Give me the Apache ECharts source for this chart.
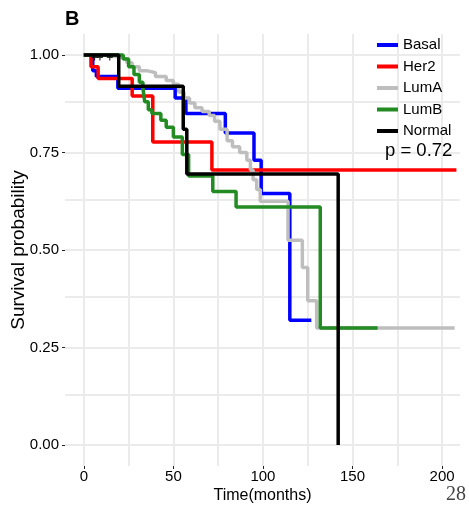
<!DOCTYPE html>
<html>
<head>
<meta charset="utf-8">
<script src="https://cdn.jsdelivr.net/npm/echarts@6/dist/echarts.min.js"></script>
<style>
html,body{margin:0;padding:0;background:#ffffff;}
#chart{width:469px;height:512px;}
</style>
</head>
<body>
<div id="chart"></div>
<script>
// ---- data ----
const groups = ['Basal', 'Her2', 'LumA', 'LumB', 'Normal'];
const groupColors = ['#0000ff', '#ff0000', '#bebebe', '#228b22', '#000000'];

const timeBasal = [0, 5, 7, 19, 51, 57, 79, 95, 99, 115, 127];
const survBasal = [1, 0.96, 0.945, 0.915, 0.89, 0.85, 0.80, 0.73, 0.645, 0.32, 0.32];

const timeHer2 = [0, 4, 8, 27, 38.5, 71.5, 208];
const survHer2 = [1, 0.97, 0.94, 0.895, 0.777, 0.705, 0.705];

const timeLumA = [0, 12, 20, 24, 27, 31, 35, 40, 46, 50, 53, 56, 59, 62, 66, 70, 73, 76, 80, 83, 87, 91, 93, 94.5, 96.5, 98.5, 114, 122, 125, 130, 207];
const survLumA = [1, 0.995, 0.99, 0.98, 0.97, 0.96, 0.955, 0.945, 0.935, 0.925, 0.905, 0.89, 0.877, 0.865, 0.855, 0.845, 0.83, 0.81, 0.78, 0.765, 0.75, 0.73, 0.705, 0.68, 0.655, 0.625, 0.525, 0.455, 0.37, 0.30, 0.30];

const timeLumB = [0, 22, 25, 28, 31, 33, 34, 36, 38, 43, 46, 50, 55, 58.5, 72, 85, 132, 164];
const survLumB = [1, 0.99, 0.97, 0.95, 0.93, 0.915, 0.88, 0.86, 0.85, 0.833, 0.815, 0.79, 0.745, 0.69, 0.65, 0.61, 0.30, 0.30];

const timeNormal = [0, 19.5, 55.5, 57.5, 142];
const survNormal = [1, 0.92, 0.81, 0.695, 0];

// censor marks visible on the Normal curve at the start
const censorTimeNormal = [6, 9, 14.5];
const censorSurvNormal = [1, 1, 1];

const xTickValues = [0, 50, 100, 150, 200];
const yTickValues = [0, 0.25, 0.5, 0.75, 1];
const xMinorValues = [25, 75, 125, 175];
const yMinorValues = [0.125, 0.375, 0.625, 0.875];

const pValueText = 'p = 0.72';
const panelLabel = 'B';
const pageNumber = '28';

// ---- build ----
const times = [timeBasal, timeHer2, timeLumA, timeLumB, timeNormal];
const survs = [survBasal, survHer2, survLumA, survLumB, survNormal];

const font = 'Liberation Sans, Arial, sans-serif';
const gridColor = '#ebebeb';

const series = [{
  name: '_grid',
  type: 'line',
  data: [],
  silent: true,
  markLine: {
    silent: true,
    symbol: ['none', 'none'],
    label: {show: false},
    z: 0,
    animation: false,
    lineStyle: {color: gridColor, width: 2, type: 'solid'},
    emphasis: {disabled: true},
    data: xMinorValues.map(v => ({xAxis: v})).concat(yMinorValues.map(v => ({yAxis: v})))
  }
}];

groups.forEach((g, i) => {
  series.push({
    name: g,
    type: 'line',
    step: 'end',
    showSymbol: false,
    symbol: 'none',
    animation: false,
    lineStyle: {color: groupColors[i], width: 3.5},
    itemStyle: {color: groupColors[i]},
    data: times[i].map((t, k) => [t, survs[i][k]])
  });
});

series.push({
  name: 'Normal censor',
  type: 'scatter',
  silent: true,
  animation: false,
  symbol: 'path://M2,0 L3,0 L3,2 L5,2 L5,3 L3,3 L3,5 L2,5 L2,3 L0,3 L0,2 L2,2 Z',
  symbolSize: 6,
  itemStyle: {color: '#000'},
  z: 5,
  data: censorTimeNormal.map((t, k) => [t, censorSurvNormal[k] - 0.006])
});

const chart = echarts.init(document.getElementById('chart'), null, {renderer: 'canvas'});
chart.setOption({
  animation: false,
  backgroundColor: '#ffffff',
  grid: {left: 65, right: 9, top: 34, bottom: 46, containLabel: false, outerBoundsMode: 'none'},
  legend: {
    data: groups,
    orient: 'vertical',
    left: 377,
    top: 37,
    padding: 0,
    itemGap: 5.5,
    itemWidth: 21,
    itemHeight: 4,
    icon: 'rect',
    textStyle: {fontFamily: font, fontSize: 15, color: '#000', lineHeight: 16},
    selectedMode: false
  },
  xAxis: {
    type: 'value',
    min: -10.5,
    max: 210,
    axisLine: {show: false, onZero: false},
    axisTick: {show: true, customValues: xTickValues, length: 3, lineStyle: {color: '#222', width: 1}},
    axisLabel: {customValues: xTickValues, margin: 3, fontSize: 15, color: '#000', fontFamily: font},
    splitLine: {show: true, lineStyle: {color: gridColor, width: 2}},
    name: 'Time(months)',
    nameLocation: 'middle',
    nameGap: 22,
    nameMoveOverlap: false,
    nameTextStyle: {fontFamily: font, fontSize: 16, color: '#000'}
  },
  yAxis: {
    type: 'value',
    min: -0.054,
    max: 1.054,
    axisLine: {show: false, onZero: false},
    axisTick: {show: true, customValues: yTickValues, length: 3, lineStyle: {color: '#222', width: 1}},
    axisLabel: {customValues: yTickValues, margin: 6, fontSize: 15, color: '#000', fontFamily: font,
      formatter: v => Number(v).toFixed(2)},
    splitLine: {show: true, lineStyle: {color: gridColor, width: 2}},
    name: 'Survival probability',
    nameLocation: 'middle',
    nameGap: 37,
    nameMoveOverlap: false,
    nameTextStyle: {fontFamily: font, fontSize: 19, color: '#000'}
  },
  graphic: [
    {type: 'text', z: 100, left: 65, top: 9, style: {text: panelLabel, font: 'bold 20px ' + font, fill: '#000'}},
    {type: 'text', z: 100, left: 385, top: 141, style: {text: pValueText, font: '18.5px ' + font, fill: '#000'}},
    {type: 'text', z: 100, left: 446, top: 485, style: {text: pageNumber, font: '20px Liberation Serif, serif', fill: '#444'}}
  ],
  series: series
});
</script>
</body>
</html>
